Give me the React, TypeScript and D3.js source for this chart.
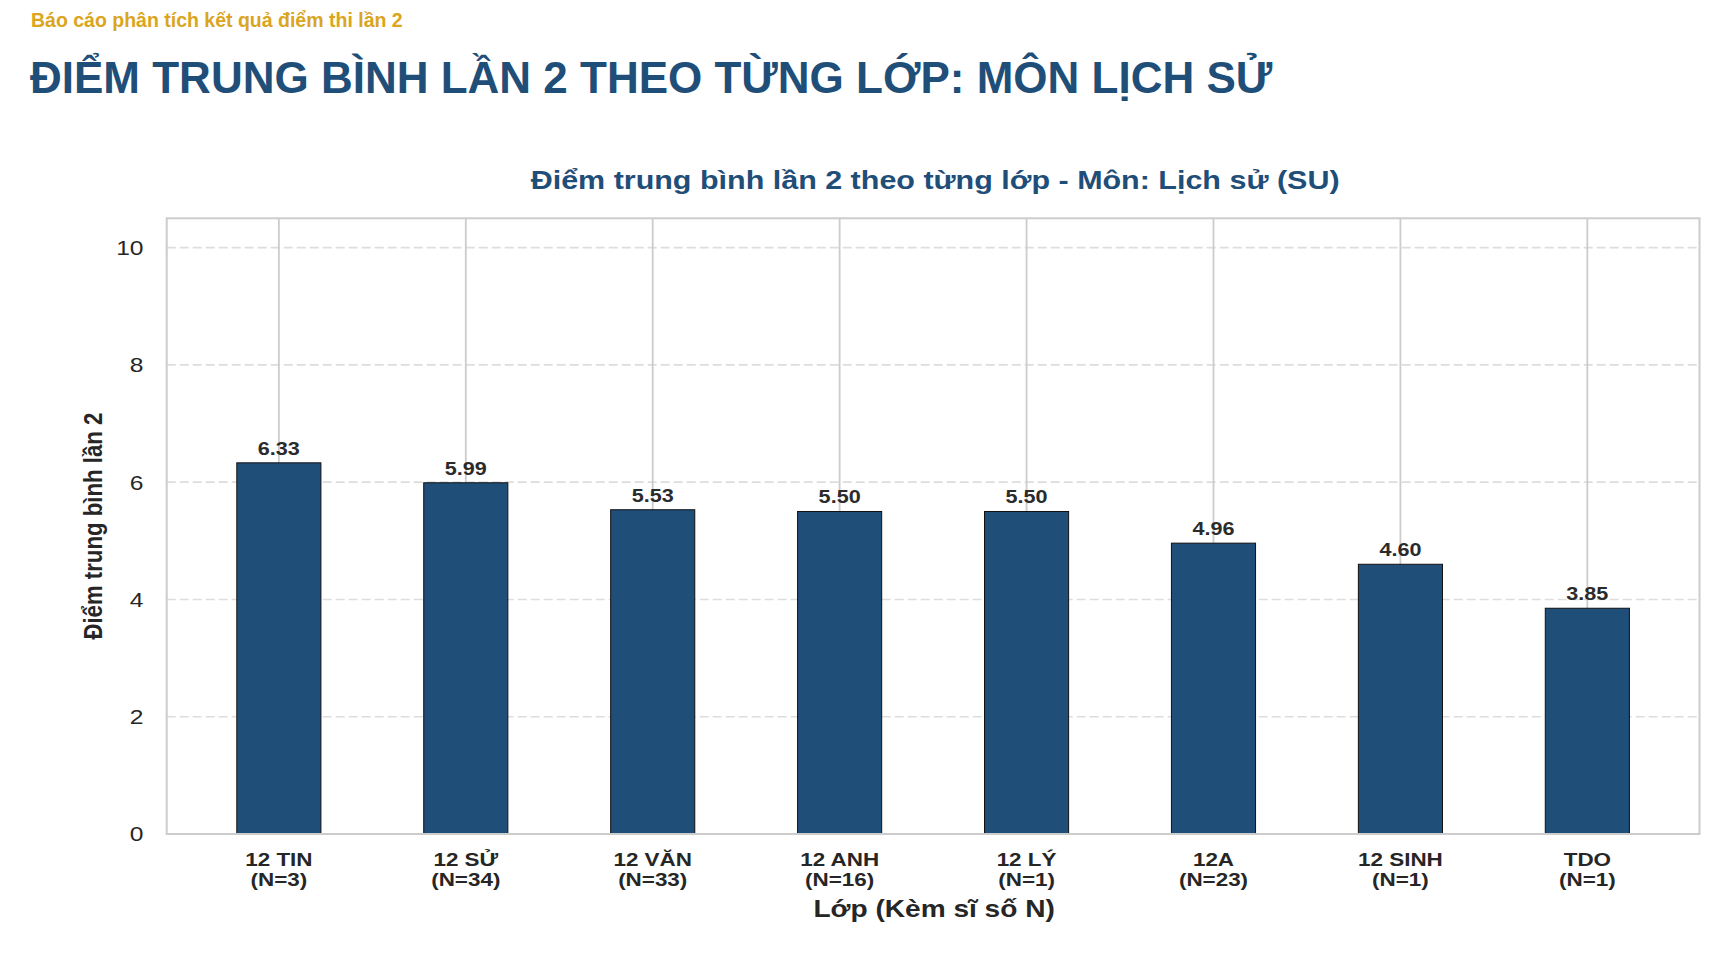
import React from "react";
import * as d3 from "d3";

const reportLabel = "Báo cáo phân tích kết quả điểm thi lần 2";
const pageTitle = "ĐIỂM TRUNG BÌNH LẦN 2 THEO TỪNG LỚP: MÔN LỊCH SỬ";
const chartTitle = "Điểm trung bình lần 2 theo từng lớp - Môn: Lịch sử (SU)";
const xAxisTitle = "Lớp (Kèm sĩ số N)";
const yAxisTitle = "Điểm trung bình lần 2";

const classes = ["12 TIN", "12 SỬ", "12 VĂN", "12 ANH", "12 LÝ", "12A", "12 SINH", "TDO"];
const counts = [3, 34, 33, 16, 1, 23, 1, 1];
const scores = [6.33, 5.99, 5.53, 5.5, 5.5, 4.96, 4.6, 3.85];
const yTicks = [0, 2, 4, 6, 8, 10];

const W = 1724;
const H = 970;
const plot = { left: 166.7, right: 1699.5, top: 218.3, bottom: 834 };
const NAVY = "#1f4e79";
const LIB = "'Liberation Sans', Arial, Helvetica, sans-serif";
const SX = 1.2; // the chart image is stretched horizontally

type TProps = {
  x: number;
  y: number;
  sx?: number;
  rotate?: number;
  size: number;
  bold?: boolean;
  anchor?: "start" | "middle" | "end";
  fill?: string;
  dy?: string;
  children: React.ReactNode;
};

function T({ x, y, sx = SX, rotate, size, bold = true, anchor = "middle", fill = "#222222", dy, children }: TProps) {
  const tr = `translate(${x},${y}) scale(${sx},1)` + (rotate ? ` rotate(${rotate})` : "");
  return (
    <text
      transform={tr}
      textAnchor={anchor}
      fontFamily={LIB}
      fontWeight={bold ? "bold" : "normal"}
      fontSize={size}
      fill={fill}
      dy={dy}
    >
      {children}
    </text>
  );
}

export default function App() {
  const x = d3.scaleLinear().domain([-0.6, classes.length - 0.4]).range([plot.left, plot.right]);
  const y = d3.scaleLinear().domain([0, 10.5]).range([plot.bottom, plot.top]);
  const barW = x(0.45) - x(0);

  return (
    <svg
      width={W}
      height={H}
      viewBox={`0 0 ${W} ${H}`}
      style={{ position: "absolute", left: 0, top: 0, display: "block", background: "#fff" }}
    >
      <rect x={0} y={0} width={W} height={H} fill="#ffffff" />
      <text x={31} y={26.7} fontFamily={LIB} fontWeight="bold" fontSize={19.5} fill="#DAA520">
        {reportLabel}
      </text>
      <text x={30} y={92.5} fontFamily={LIB} fontWeight="bold" fontSize={44} fill={NAVY}>
        {pageTitle}
      </text>

      <T x={(plot.left + plot.right) / 2 + 2} y={189} size={25.4} fill={NAVY}>
        {chartTitle}
      </T>

      {/* horizontal dashed grid */}
      {yTicks.map((t) => (
        <line
          key={"h" + t}
          x1={plot.left}
          x2={plot.right}
          y1={y(t)}
          y2={y(t)}
          stroke="#dddddd"
          strokeWidth={1.6}
          strokeDasharray="9,4"
        />
      ))}
      {/* vertical solid grid */}
      {classes.map((c, i) => (
        <line
          key={"v" + c}
          x1={x(i)}
          x2={x(i)}
          y1={plot.top}
          y2={plot.bottom}
          stroke="#cccccc"
          strokeWidth={1.8}
        />
      ))}

      {/* bars */}
      {scores.map((v, i) => (
        <rect
          key={"b" + i}
          x={x(i) - barW / 2}
          y={y(v)}
          width={barW}
          height={y(0) - y(v)}
          fill={NAVY}
          stroke="#111111"
          strokeWidth={1}
        />
      ))}

      {/* value labels */}
      {scores.map((v, i) => (
        <T key={"vl" + i} x={x(i)} y={y(v) - 8} size={18} fill="#2b2b2b">
          {v.toFixed(2)}
        </T>
      ))}

      {/* frame */}
      <rect
        x={plot.left}
        y={plot.top}
        width={plot.right - plot.left}
        height={plot.bottom - plot.top}
        fill="none"
        stroke="#cccccc"
        strokeWidth={2}
      />

      {/* y ticks */}
      {yTicks.map((t) => (
        <T key={"yt" + t} x={143.5} y={y(t)} dy="0.36em" anchor="end" bold={false} size={20.5} fill="#262626">
          {t}
        </T>
      ))}

      {/* x tick labels */}
      {classes.map((c, i) => (
        <g key={"xt" + c}>
          <T x={x(i)} y={866} size={18.7} fill="#262626">
            {c}
          </T>
          <T x={x(i)} y={885.5} size={18.7} fill="#262626">
            {`(N=${counts[i]})`}
          </T>
        </g>
      ))}

      <T x={(plot.left + plot.right) / 2 + 1} y={917} size={23.4} fill="#262626">
        {xAxisTitle}
      </T>

      <T x={101.5} y={(plot.top + plot.bottom) / 2} rotate={-90} size={22.2} fill="#262626">
        {yAxisTitle}
      </T>
    </svg>
  );
}
